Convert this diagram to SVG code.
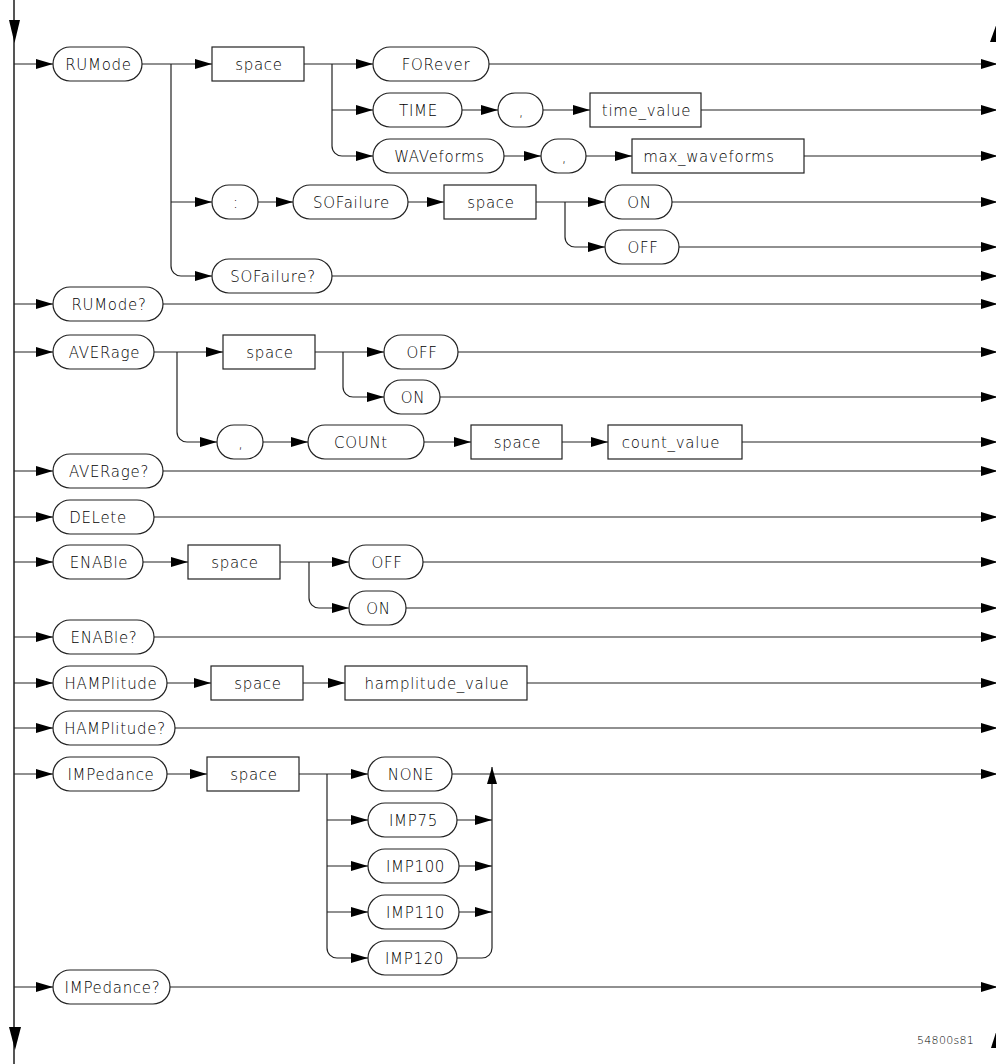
<svg xmlns="http://www.w3.org/2000/svg" width="996" height="1064" viewBox="0 0 996 1064">
<style>
.n{fill:#fff;stroke:#222;stroke-width:1.2}
.t{font-family:"DejaVu Sans","Liberation Sans",Arial,sans-serif;font-weight:200;font-size:15px;letter-spacing:0.7px;fill:#000;text-anchor:middle}
.c{fill:none;stroke:#222;stroke-width:1.2;marker-end:url(#ah)}
</style>
<defs>
<marker id="ah" markerUnits="userSpaceOnUse" markerWidth="18" markerHeight="12" refX="17" refY="5.5" orient="auto" viewBox="0 0 18 11">
<path d="M0,0.5 L17,5.5 L0,10.5 z" fill="#000"/>
</marker>
</defs>
<rect width="996" height="1064" fill="#fff"/>
<g id="connectors">
<line x1="14" y1="0" x2="14" y2="1064" stroke="#555" stroke-width="2"/>
<polygon points="9,20 20,20 14.5,43" fill="#000"/>
<polygon points="9,1027 21,1027 15,1050" fill="#000"/>
<polygon points="998,20 990,42 1006,42" fill="#000"/>
<polygon points="998,1026 991,1048 1005,1048" fill="#000"/>
<path class="c" d="M14,64H53"/>
<path class="c" d="M14,304H53"/>
<path class="c" d="M14,352H53"/>
<path class="c" d="M14,471H53"/>
<path class="c" d="M14,517H53"/>
<path class="c" d="M14,562H53"/>
<path class="c" d="M14,637H53"/>
<path class="c" d="M14,683H53"/>
<path class="c" d="M14,728H53"/>
<path class="c" d="M14,774H53"/>
<path class="c" d="M14,987H53"/>
<path class="c" d="M142,64H212"/>
<path class="c" d="M171,64V266A10,10 0 0 0 181,276H212"/>
<path class="c" d="M171,202H212"/>
<path class="c" d="M304,64H373"/>
<path class="c" d="M332,64V146A10,10 0 0 0 342,156H373"/>
<path class="c" d="M332,110H373"/>
<path class="c" d="M489,64H998"/>
<path class="c" d="M462,110H498"/>
<path class="c" d="M543,110H590"/>
<path class="c" d="M701,110H998"/>
<path class="c" d="M504,156H541"/>
<path class="c" d="M586,156H632"/>
<path class="c" d="M804,156H998"/>
<path class="c" d="M258,202H293"/>
<path class="c" d="M408,202H444"/>
<path class="c" d="M536,202H605"/>
<path class="c" d="M565,202V237A10,10 0 0 0 575,247H605"/>
<path class="c" d="M672,202H998"/>
<path class="c" d="M679,247H998"/>
<path class="c" d="M332,276H998"/>
<path class="c" d="M163,304H998"/>
<path class="c" d="M154,352H223"/>
<path class="c" d="M177,352V432A10,10 0 0 0 187,442H217"/>
<path class="c" d="M315,352H384"/>
<path class="c" d="M343,352V387A10,10 0 0 0 353,397H384"/>
<path class="c" d="M458,352H998"/>
<path class="c" d="M440,397H998"/>
<path class="c" d="M263,442H308"/>
<path class="c" d="M424,442H471"/>
<path class="c" d="M562,442H608"/>
<path class="c" d="M742,442H998"/>
<path class="c" d="M163,471H998"/>
<path class="c" d="M154,517H998"/>
<path class="c" d="M143,562H188"/>
<path class="c" d="M280,562H349"/>
<path class="c" d="M309,562V598A10,10 0 0 0 319,608H349"/>
<path class="c" d="M423,562H998"/>
<path class="c" d="M406,608H998"/>
<path class="c" d="M154,637H998"/>
<path class="c" d="M167,683H211"/>
<path class="c" d="M303,683H345"/>
<path class="c" d="M527,683H998"/>
<path class="c" d="M175,728H998"/>
<path class="c" d="M167,774H207"/>
<path class="c" d="M299,774H368"/>
<path class="c" d="M327,774V948A10,10 0 0 0 337,958H368"/>
<path class="c" d="M327,820H368"/>
<path class="c" d="M327,866H368"/>
<path class="c" d="M327,912H368"/>
<path class="c" d="M452,774H998"/>
<path class="c" d="M457,820H492"/>
<path class="c" d="M459,866H492"/>
<path class="c" d="M459,912H492"/>
<path class="c" d="M457,958H482A10,10 0 0 0 492,948V767"/>
<path class="c" d="M170,987H998"/>
</g>
<g id="n-rumode"><rect class="n" x="53" y="47" width="89" height="34" rx="17"/><text class="t" x="98.5" y="69.5">RUMode</text></g>
<g id="n-space1"><rect class="n" x="212" y="47" width="92" height="34"/><text class="t" x="259" y="69.5">space</text></g>
<g id="n-forever"><rect class="n" x="373" y="47" width="116" height="34" rx="17"/><text class="t" x="436" y="69.5">FORever</text></g>
<g id="n-time"><rect class="n" x="373" y="93" width="89" height="34" rx="17"/><text class="t" x="418.5" y="115.5">TIME</text></g>
<g id="n-comma1"><rect class="n" x="498" y="93" width="45" height="34" rx="17"/><text class="t" x="521.5" y="115.5">,</text></g>
<g id="n-time-value"><rect class="n" x="590" y="93" width="111" height="34"/><text class="t" x="646.5" y="115.5">time_value</text></g>
<g id="n-waveforms"><rect class="n" x="373" y="139" width="131" height="34" rx="17"/><text class="t" x="439.5" y="161.5">WAVeforms</text></g>
<g id="n-comma2"><rect class="n" x="541" y="139" width="45" height="34" rx="17"/><text class="t" x="564.5" y="161.5">,</text></g>
<g id="n-max-waveforms"><rect class="n" x="632" y="139" width="172" height="34"/><text class="t" x="709" y="161.5">max_waveforms</text></g>
<g id="n-colon"><rect class="n" x="212" y="185" width="46" height="34" rx="17"/><text class="t" x="236" y="207.5">:</text></g>
<g id="n-sofailure"><rect class="n" x="293" y="185" width="115" height="34" rx="17"/><text class="t" x="351.5" y="207.5">SOFailure</text></g>
<g id="n-space2"><rect class="n" x="444" y="185" width="92" height="34"/><text class="t" x="491" y="207.5">space</text></g>
<g id="n-on1"><rect class="n" x="605" y="185" width="67" height="34" rx="17"/><text class="t" x="639.5" y="207.5">ON</text></g>
<g id="n-off1"><rect class="n" x="605" y="230" width="74" height="34" rx="17"/><text class="t" x="643" y="252.5">OFF</text></g>
<g id="n-sofailure-q"><rect class="n" x="212" y="259" width="120" height="34" rx="17"/><text class="t" x="273" y="281.5">SOFailure?</text></g>
<g id="n-rumode-q"><rect class="n" x="53" y="287" width="110" height="34" rx="17"/><text class="t" x="109" y="309.5">RUMode?</text></g>
<g id="n-average"><rect class="n" x="53" y="335" width="101" height="34" rx="17"/><text class="t" x="104.5" y="357.5">AVERage</text></g>
<g id="n-space3"><rect class="n" x="223" y="335" width="92" height="34"/><text class="t" x="270" y="357.5">space</text></g>
<g id="n-off2"><rect class="n" x="384" y="335" width="74" height="34" rx="17"/><text class="t" x="422" y="357.5">OFF</text></g>
<g id="n-on2"><rect class="n" x="384" y="380" width="56" height="34" rx="17"/><text class="t" x="413" y="402.5">ON</text></g>
<g id="n-comma3"><rect class="n" x="217" y="425" width="46" height="34" rx="17"/><text class="t" x="241" y="447.5">,</text></g>
<g id="n-count"><rect class="n" x="308" y="425" width="116" height="34" rx="17"/><text class="t" x="361" y="447.5">COUNt</text></g>
<g id="n-space4"><rect class="n" x="471" y="425" width="91" height="34"/><text class="t" x="517.5" y="447.5">space</text></g>
<g id="n-count-value"><rect class="n" x="608" y="425" width="134" height="34"/><text class="t" x="671" y="447.5">count_value</text></g>
<g id="n-average-q"><rect class="n" x="53" y="454" width="110" height="34" rx="17"/><text class="t" x="109" y="476.5">AVERage?</text></g>
<g id="n-delete"><rect class="n" x="53" y="500" width="101" height="34" rx="17"/><text class="t" x="98" y="522.5">DELete</text></g>
<g id="n-enable"><rect class="n" x="53" y="545" width="90" height="34" rx="17"/><text class="t" x="99" y="567.5">ENABle</text></g>
<g id="n-space5"><rect class="n" x="188" y="545" width="92" height="34"/><text class="t" x="235" y="567.5">space</text></g>
<g id="n-off3"><rect class="n" x="349" y="545" width="74" height="34" rx="17"/><text class="t" x="387" y="567.5">OFF</text></g>
<g id="n-on3"><rect class="n" x="349" y="591" width="57" height="34" rx="17"/><text class="t" x="378.5" y="613.5">ON</text></g>
<g id="n-enable-q"><rect class="n" x="53" y="620" width="101" height="34" rx="17"/><text class="t" x="104" y="642.5">ENABle?</text></g>
<g id="n-hamplitude"><rect class="n" x="53" y="666" width="114" height="34" rx="17"/><text class="t" x="111" y="688.5">HAMPlitude</text></g>
<g id="n-space6"><rect class="n" x="211" y="666" width="92" height="34"/><text class="t" x="258" y="688.5">space</text></g>
<g id="n-hamplitude-value"><rect class="n" x="345" y="666" width="182" height="34"/><text class="t" x="437" y="688.5">hamplitude_value</text></g>
<g id="n-hamplitude-q"><rect class="n" x="53" y="711" width="122" height="34" rx="17"/><text class="t" x="115" y="733.5">HAMPlitude?</text></g>
<g id="n-impedance"><rect class="n" x="53" y="757" width="114" height="34" rx="17"/><text class="t" x="111" y="779.5">IMPedance</text></g>
<g id="n-space7"><rect class="n" x="207" y="757" width="92" height="34"/><text class="t" x="254" y="779.5">space</text></g>
<g id="n-none"><rect class="n" x="368" y="757" width="84" height="34" rx="17"/><text class="t" x="411" y="779.5">NONE</text></g>
<g id="n-imp75"><rect class="n" x="368" y="803" width="89" height="34" rx="17"/><text class="t" x="413.5" y="825.5">IMP75</text></g>
<g id="n-imp100"><rect class="n" x="368" y="849" width="91" height="34" rx="17"/><text class="t" x="415.5" y="871.5">IMP100</text></g>
<g id="n-imp110"><rect class="n" x="368" y="895" width="91" height="34" rx="17"/><text class="t" x="415.5" y="917.5">IMP110</text></g>
<g id="n-imp120"><rect class="n" x="368" y="941" width="89" height="34" rx="17"/><text class="t" x="414.5" y="963.5">IMP120</text></g>
<g id="n-impedance-q"><rect class="n" x="53" y="970" width="117" height="34" rx="17"/><text class="t" x="112.5" y="992.5">IMPedance?</text></g>
<text x="917" y="1044" font-family="'DejaVu Sans','Liberation Sans',Arial,sans-serif" font-weight="200" font-size="11" letter-spacing="0.3" fill="#000">54800s81</text>
</svg>
